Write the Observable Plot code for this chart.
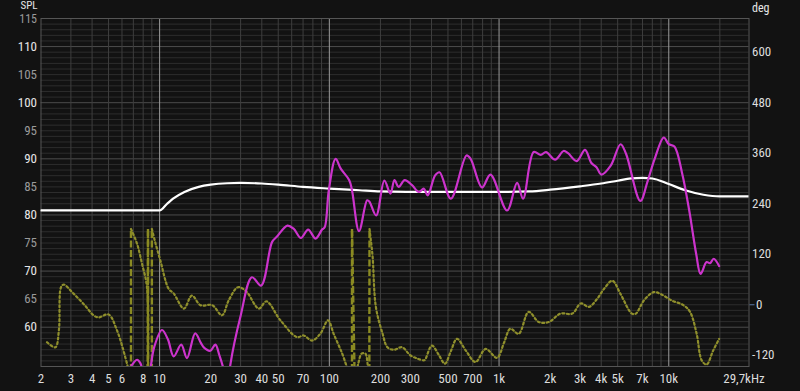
<!DOCTYPE html>
<html>
<head>
<meta charset="utf-8">
<script src="https://cdn.jsdelivr.net/npm/d3@7"></script>
<script src="https://cdn.jsdelivr.net/npm/@observablehq/plot@0.6"></script>
<style>
html,body{margin:0;padding:0;background:#121212;}
</style>
</head>
<body>
<div id="chart"></div>
<script>
// ---- data ----
const freqTicks = [2,3,4,5,6,8,10,20,30,40,50,70,100,200,300,500,700,1000,2000,3000,4000,5000,7000,10000];
const freqEnd = [29700];
const splTicks = [60,65,70,75,80,85,90,95,100,105,110,115];
const degTicks = [-120,0,120,240,360,480,600];

// white (target) curve: [Hz, dB]
const whiteFreq = [2,10,11,12,14,17,20,25,30,40,50,70,100,150,200,400,1000,1500,2000,3000,4000,5000,6000,7000,8000,10000,12500,16000,20000,29700];
const whiteSpl  = [80.8,80.8,81.9,82.9,84.1,85.0,85.4,85.65,85.7,85.6,85.4,85.0,84.7,84.4,84.2,84.1,84.1,84.2,84.5,85.1,85.6,86.1,86.5,86.6,86.5,85.5,84.4,83.6,83.3,83.3];

// magenta (measured SPL): [Hz, dB]
const splFreq = [6.5,6.65,7.0,7.36,7.7,7.88,8.3,8.82,9.3,10.33,11.2,12.1,13.4,14.5,16.2,17.5,18.2,19.9,21.3,22.5,23.8,25,26.1,29.9,35,39.6,46,49,56.6,61.6,68,75,83,90.6,93.9,99.3,108.9,116.7,131,136,149.6,167,172,188.8,211,229,242,256,278,307,337,360,380,420,446,520,643,680,794,890,1115,1277,1385,1600,1760,1890,2140,2400,2550,2870,3210,3500,3750,4010,4550,5200,5600,6800,7500,8260,9350,10000,10800,12000,13200,14500,15400,16700,17500,18400,19800];
const splDb   = [49,52.5,53.6,54.2,53.6,52.5,47,52.5,56.5,59.5,57.8,54.8,56.9,54.5,58.9,57.2,56.4,55.8,56.9,55,52.5,48,53.3,61.8,68.9,67.4,75.2,76.1,78.1,77.55,75.9,77.4,75.8,77.4,77.8,84.4,90.0,88.25,86.2,84.4,77.1,82.6,82.4,79.9,86.1,83.8,86.2,85.0,86.2,85.3,84.1,84.7,83.5,87.05,87.6,82.9,90.6,90.0,84.9,87.2,80.8,85.7,82.9,91.2,90.7,91.2,89.85,91.4,91.0,89.6,91.6,89.25,88.5,87.2,88.8,92.6,90.9,82.5,86.0,90.0,93.8,92.6,92.2,87.35,80.8,73.1,69.5,71.6,71.4,72.2,70.9];

// olive (phase, deg, wrapped): [Hz, deg]
const phaseFreq = [2.17,2.43,2.55,2.62,2.72,3.1,3.6,4.08,4.37,5.0,5.61,6.27,6.56,6.78,6.78,7.36,7.88,8.43,8.5,8.54,8.56,9.0,9.0,9.4,10.1,11.3,12.1,13.9,15.5,17.4,20.4,23.3,25.5,28.6,30,32.7,38.4,42.6,51.5,64.5,70.6,79,88.5,98.3,106,119,127.5,136,136,141,148,155,163,168,172,172.5,176,180,188,206,220,240,268,300,330,359,366,402,440,480,520,565,640,726,834,973,1070,1165,1305,1495,1715,1965,2300,2700,3030,3390,3800,4160,4650,5190,6060,6400,7130,8150,8920,10420,12200,13350,14600,15630,16700,18300,19800];
const phaseDeg  = [-89,-101,-60,41,48,27,0,-25,-30,-23,-61,-124,-155,-180,180,145,97,41,-180,180,-180,-180,180,150,105,38,27,-9,22,-1,-1,-25,10,41,41,30,-9,8,-37,-77,-73,-85,-69,-37,-69,-116,-150,-180,180,-180,-140,-116,-116,-140,-180,180,150,113,-5,-69,-101,-107,-101,-120,-128,-132,-131,-97,-118,-140,-110,-81,-110,-136,-105,-126,-90,-57,-69,-17,-41,-41,-21,-21,3,-5,15,38,57,26,-21,-21,10,30,26,10,-1,-17,-69,-132,-142,-108,-81];

// ---- derived ----
const PH0 = 64, PHK = 0.075;           // phase axis mapping onto SPL scale
const degToY = d => PH0 + PHK * d;

const white = whiteFreq.map((f,i) => ({f, v: whiteSpl[i]}));
const spl = splFreq.map((f,i) => ({f, v: splDb[i]}));

// split phase into continuous runs + wrap links
const phaseRows = [];
const wraps = [];
let seg = 0;
for (let i = 0; i < phaseFreq.length; i++) {
  if (i > 0 && Math.abs(phaseDeg[i] - phaseDeg[i-1]) >= 300) {
    wraps.push({f1: phaseFreq[i-1], y1: degToY(phaseDeg[i-1]), f2: phaseFreq[i], y2: degToY(phaseDeg[i])});
    seg++;
  }
  phaseRows.push({f: phaseFreq[i], v: degToY(phaseDeg[i]), seg});
}

const fMinor = [], fMajor = [10,100,1000,10000];
for (const dec of [1,10,100,1000,10000]) for (let m = 2; m <= 9; m++) { const v = m*dec; if (v > 2 && v <= 20000) fMinor.push(v); }
const dbMinor = d3.range(54, 115, 1).filter(v => v % 10 !== 0);
const dbMajor = d3.range(60, 115, 10);

const fmtF = f => f === 29700 ? "29,7kHz" : f >= 1000 ? (f/1000) + "k" : String(f);
const fmtDeg = y => String(Math.round((y - PH0) / PHK));

const font = "'Liberation Sans Narrow', 'Roboto Condensed', Roboto, sans-serif";

const chart = Plot.plot({
  width: 800, height: 391,
  marginTop: 18, marginBottom: 25, marginLeft: 40.5, marginRight: 51.5,
  style: {background: "#121212", color: "#dddddd", fontFamily: font, fontSize: "13px"},
  x: {type: "log", domain: [2, 29700], axis: null},
  y: {domain: [53, 115], axis: null},
  marks: [
    Plot.ruleY(dbMinor, {stroke: "#2d2d2d", strokeWidth: 1}),
    Plot.ruleY(dbMajor, {stroke: "#4c4c4c", strokeWidth: 1}),
    Plot.ruleX(fMinor, {stroke: "#3e3e3e", strokeWidth: 1}),
    Plot.ruleX(fMajor, {stroke: "#9a9a9a", strokeWidth: 1}),
    Plot.frame({stroke: "#555555"}),
    Plot.line(white, {x: "f", y: "v", stroke: "#ffffff", strokeWidth: 2.2, curve: "monotone-x", clip: true}),
    Plot.line(phaseRows, {x: "f", y: "v", z: "seg", stroke: "#8f8f2c", strokeWidth: 2.2, strokeDasharray: "2,2.6", curve: "catmull-rom", clip: true}),
    Plot.link(wraps, {x1: "f1", y1: "y1", x2: "f2", y2: "y2", stroke: "#8a8a22", strokeWidth: 2.4, strokeDasharray: "7,2.5", clip: true}),
    Plot.line(spl, {x: "f", y: "v", stroke: "#cc33cc", strokeWidth: 2.2, curve: "catmull-rom", clip: true}),
    // x tick labels
    Plot.text(freqTicks, {x: d => d, frameAnchor: "bottom", dy: 12, lineAnchor: "middle", text: fmtF, fill: "#dddddd"}),
    Plot.text(freqEnd, {x: d => d, frameAnchor: "bottom", dy: 12, dx: -5, lineAnchor: "middle", text: fmtF, fill: "#dddddd"}),
    Plot.axisY({ticks: splTicks.filter(v => v % 10 === 0), tickSize: 0, tickPadding: 4, label: null, fill: "#e6e6e6"}),
    Plot.axisY({ticks: splTicks.filter(v => v % 10 !== 0 && v < 115), tickSize: 0, tickPadding: 4, label: null, fill: "#9a9a9a"}),
    Plot.axisY({ticks: [115], tickSize: 0, tickPadding: 4, label: null, fill: "#9a9a9a", fontSize: 12, dy: 1}),
    Plot.axisY({anchor: "right", ticks: degTicks.filter(d => d !== 0).map(degToY), tickFormat: fmtDeg, tickSize: 0, tickPadding: 3, label: null, fill: "#dddddd"}),
    Plot.axisY({anchor: "right", ticks: [degToY(0)], tickFormat: fmtDeg, tickSize: 5, tickPadding: 2, label: null, fill: "#dddddd", stroke: "#5a78a8"}),
    Plot.text(["SPL"], {frameAnchor: "top-left", dx: -3.5, dy: -13, textAnchor: "end", lineAnchor: "middle", fill: "#e6e6e6", fontSize: 11}),
    Plot.text(["deg"], {frameAnchor: "top-right", dx: 3, dy: -10, textAnchor: "start", lineAnchor: "middle", fill: "#e6e6e6", fontSize: 12})
  ]
});
document.getElementById("chart").appendChild(chart);
</script>
</body>
</html>
